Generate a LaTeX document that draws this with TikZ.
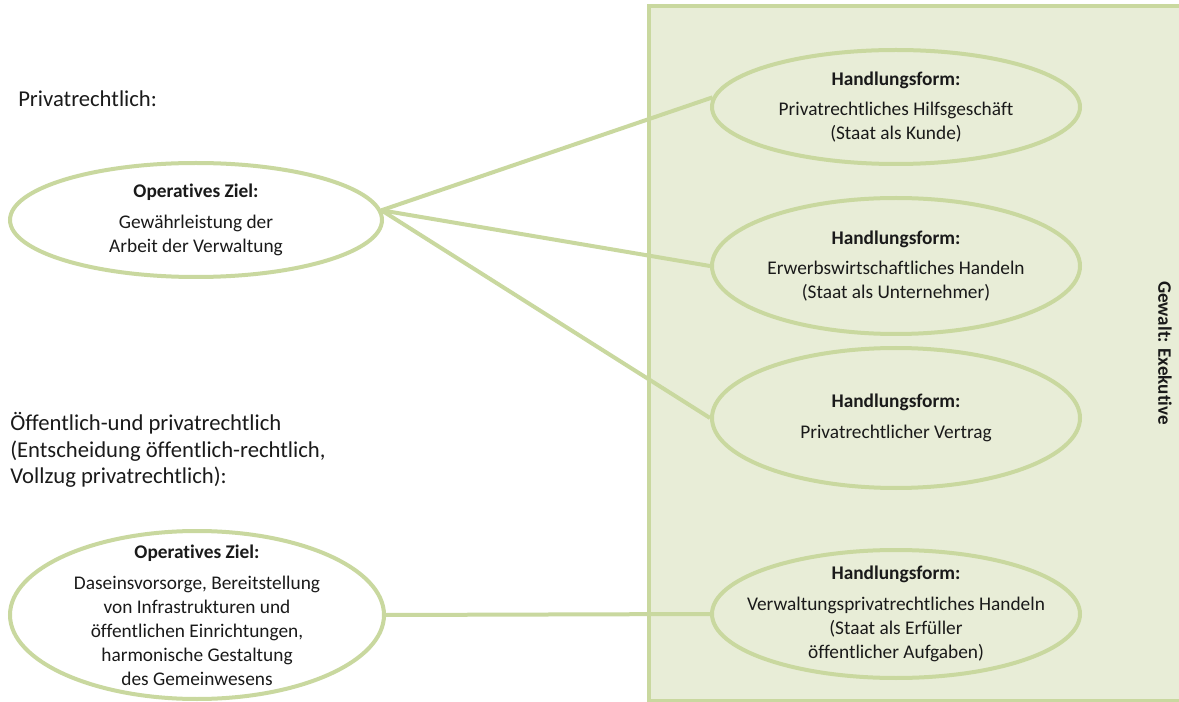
\documentclass[tikz,border=0pt]{standalone}
\usepackage{fontspec}
\setmainfont{Carlito}[Ligatures=NoCommon]
\usetikzlibrary{shapes.geometric}
\definecolor{gline}{HTML}{C9D89F}
\definecolor{gfill}{HTML}{E8EDD7}
\definecolor{txt}{HTML}{1A1A1A}
\tikzset{
  oval/.style={ellipse, draw=gline, line width=3pt, inner sep=0pt},
  leftoval/.style={oval, fill=white},
  rightoval/.style={oval, fill=gfill},
  ovaltext/.style={align=center, text=txt, inner sep=0pt, font=\fontsize{14.5}{18}\selectfont},
  conn/.style={draw=gline, line width=3pt},
  sidelabel/.style={anchor=north west, align=left, text=txt, inner sep=0pt, font=\fontsize{17}{20}\selectfont},
  panel/.style={draw=gline, fill=gfill, line width=3pt}
}
\begin{document}
\begin{tikzpicture}[x=0.75pt,y=-0.75pt]
\useasboundingbox (0,0) rectangle (1179,702);
\fill[white] (0,0) rectangle (1179,702);
\draw[panel] (649,6) rectangle (1185,700.5);
\node[rotate=-90, text=txt, font=\fontsize{14.3}{16}\selectfont\bfseries] (gew) at (1165,353) {Gewalt: Exekutive};

\node[sidelabel] (lab1) at (18,90) {Privatrechtlich:};
\node[sidelabel] (lab2) at (10,412) {Öffentlich-und privatrechtlich\\(Entscheidung öffentlich-rechtlich,\\Vollzug privatrechtlich):};

\node[leftoval, minimum width=279pt, minimum height=85.5pt] (l1) at (196,220) {};
\node[ovaltext] (l1t) at (l1.center) {\textbf{Operatives Ziel:}\\[5pt]Gewährleistung der\\Arbeit der Verwaltung};
\node[leftoval, minimum width=280.5pt, minimum height=126pt] (l2) at (197,615) {};
\node[ovaltext] (l2t) at (l2.center) {\textbf{Operatives Ziel:}\\[5pt]Daseinsvorsorge, Bereitstellung\\von Infrastrukturen und\\öffentlichen Einrichtungen,\\harmonische Gestaltung\\des Gemeinwesens};

\node[rightoval, minimum width=276pt, minimum height=85.5pt] (r1) at (896,107) {};
\node[ovaltext] (r1t) at (r1.center) {\textbf{Handlungsform:}\\[5pt]Privatrechtliches Hilfsgeschäft\\(Staat als Kunde)};
\node[rightoval, minimum width=276pt, minimum height=102pt] (r2) at (896,266) {};
\node[ovaltext] (r2t) at (r2.center) {\textbf{Handlungsform:}\\[5pt]Erwerbswirtschaftliches Handeln\\(Staat als Unternehmer)};
\node[rightoval, minimum width=276pt, minimum height=105pt] (r3) at (896,418) {};
\node[ovaltext] (r3t) at (r3.center) {\textbf{Handlungsform:}\\[5pt]Privatrechtlicher Vertrag};
\node[rightoval, minimum width=276pt, minimum height=96pt] (r4) at (896,614) {};
\node[ovaltext] (r4t) at (r4.center) {\textbf{Handlungsform:}\\[5pt]Verwaltungsprivatrechtliches Handeln\\(Staat als Erfüller\\öffentlicher Aufgaben)};

\coordinate (hub) at (l1.3);
\draw[conn] (hub) -- (r1.177);
\draw[conn] (hub) -- (r2.west);
\draw[conn] (hub) -- (r3.west);
\draw[conn] (l2.east) -- (r4.west);
\end{tikzpicture}
\end{document}
